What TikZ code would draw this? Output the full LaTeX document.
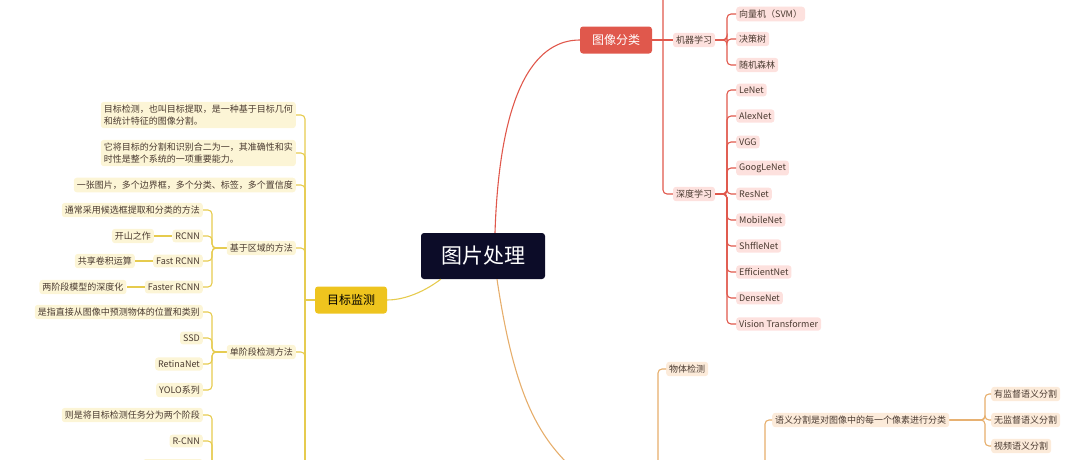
\documentclass[tikz,border=0pt]{standalone}
\usepackage{fontspec}
\setmainfont{Noto Sans CJK SC}
\usetikzlibrary{positioning}
\definecolor{redline}{HTML}{E0584C}
\definecolor{redfill}{HTML}{FDE1DE}
\definecolor{yelline}{HTML}{E6CB4E}
\definecolor{yelfill}{HTML}{FCF5D6}
\definecolor{yeltopic}{HTML}{EEC41E}
\definecolor{oraline}{HTML}{E6AE6C}
\definecolor{orafill}{HTML}{FCEBDA}
\definecolor{rootfill}{HTML}{0C0C28}
\definecolor{leaftext}{HTML}{4A3A30}
\tikzset{
  leaf/.style={fill=#1, rounded corners=3pt, inner sep=3pt, font=\fontsize{9}{12}\selectfont, text=leaftext},
  topic/.style={fill=#1, rounded corners=3pt, minimum width=72pt, minimum height=27pt, font=\fontsize{12}{14}\selectfont},
  link/.style={draw=#1, line width=1.1pt, rounded corners=4pt}
}
\begin{document}
\begin{tikzpicture}[x=1pt,y=-1pt]
                \useasboundingbox (0,0) rectangle (1080,459);
                % centre
                \node[fill=rootfill, rounded corners=3pt, minimum width=124pt, minimum height=46pt, text=white, font=\fontsize{21}{24}\selectfont] (root) at (483,256) {图片处理};
                \node[topic=redline, text=white] (cls) at (616,40) {图像分类};
                \node[topic=yeltopic, text=black] (det) at (351,300) {目标监测};
                \node[topic=oraline] (seg) at (616,475) {};
                \draw[link=redline] (root.north) ++(12,0) .. controls (500,80) and (540,40) .. (cls.west);
                \draw[link=yelline] (root.south west) ++(20,0) .. controls (420,295) and (400,300) .. (det.east);
                \draw[link=oraline] (root.south) ++(14,0) .. controls (515,400) and (540,440) .. (seg.west);
                % red branch
                \coordinate (rtop) at (663,0);
                \node[leaf=redfill] (ml) at (694,40) {机器学习};
                \node[leaf=redfill] (dl) at (694,194) {深度学习};
                \draw[link=redline] (cls.east) -- (ml.west);
                \draw[link=redline] (rtop) |- (dl.west);
                \foreach \name/\txt/\y in {svm/向量机（SVM）/14, tree/决策树/39, forest/随机森林/65}
                  \node[leaf=redfill, anchor=west] (\name) at (736,\y) {\txt};
                \foreach \name in {svm, tree, forest}
                  \draw[link=redline] (ml.east) -- (727,40) |- (\name.west);
                \foreach \name/\txt/\y in {le/LeNet/90, alex/AlexNet/116, vgg/VGG/142, goog/GoogLeNet/168, res/ResNet/194, mob/MobileNet/220, shf/ShffleNet/246, eff/EfficientNet/272, dense/DenseNet/298, vit/Vision Transformer/324}
                  \node[leaf=redfill, anchor=west] (\name) at (736,\y) {\txt};
                \foreach \name in {le, alex, vgg, goog, res, mob, shf, eff, dense, vit}
                  \draw[link=redline] (dl.east) -- (727,194) |- (\name.west);
                % yellow branch
                \coordinate (ybot) at (305,470);
                \node[leaf=yelfill, anchor=east, align=left] (d1) at (296,115) {目标检测，也叫目标提取，是一种基于目标几何\\和统计特征的图像分割。};
                \node[leaf=yelfill, anchor=east, align=left] (d2) at (296,153) {它将目标的分割和识别合二为一，其准确性和实\\时性是整个系统的一项重要能力。};
                \node[leaf=yelfill, anchor=east] (d3) at (296,185) {一张图片，多个边界框，多个分类、标签，多个置信度};
                \node[leaf=yelfill, anchor=east] (reg) at (296,248) {基于区域的方法};
                \node[leaf=yelfill, anchor=east] (one) at (296,352) {单阶段检测方法};
                \node[leaf=yelfill, anchor=east, minimum width=70pt, minimum height=18pt] (two) at (296,490) {};
                \draw[link=yelline] (det.west) -- (305,300);
                \foreach \name in {d1, d2, d3, reg, one}
                  \draw[link=yelline] (ybot) |- (\name.east);
                \foreach \name/\txt/\y in {r0/通常采用候选框提取和分类的方法/210, r1/RCNN/236, r2/Fast RCNN/261, r3/Faster RCNN/287}
                  \node[leaf=yelfill, anchor=east] (\name) at (203,\y) {\txt};
                \foreach \name in {r0, r1, r2, r3}
                  \draw[link=yelline] (reg.west) -- (212,248) |- (\name.east);
                \node[leaf=yelfill, left=18pt of r1] (r1a) {开山之作};
                \node[leaf=yelfill, left=18pt of r2] (r2a) {共享卷积运算};
                \node[leaf=yelfill, left=18pt of r3] (r3a) {两阶段模型的深度化};
                \draw[link=yelline] (r1) -- (r1a);
                \draw[link=yelline] (r2) -- (r2a);
                \draw[link=yelline] (r3) -- (r3a);
                \foreach \name/\txt/\y in {s0/是指直接从图像中预测物体的位置和类别/312, s1/SSD/338, s2/RetinaNet/364, s3/YOLO系列/390}
                  \node[leaf=yelfill, anchor=east] (\name) at (203,\y) {\txt};
                \foreach \name in {s0, s1, s2, s3}
                  \draw[link=yelline] (one.west) -- (212,352) |- (\name.east);
                \foreach \name/\txt/\y in {t0/则是将目标检测任务分为两个阶段/415, t1/R-CNN/441}
                  \node[leaf=yelfill, anchor=east] (\name) at (203,\y) {\txt};
                \node[leaf=yelfill, anchor=east, minimum width=60pt, minimum height=18pt] (t2) at (203,468) {};
                \foreach \name in {t0, t1, t2}
                  \draw[link=yelline] (two.west) -- (212,490) |- (\name.east);
                % orange branch
                \node[leaf=orafill, anchor=west] (obj) at (666,369) {物体检测};
                \node[leaf=orafill, anchor=west] (sem) at (772,420) {语义分割是对图像中的每一个像素进行分类};
                \draw[link=oraline] (seg.east) -- (658,475) |- (obj.west);
                \draw[link=oraline] (765,470) |- (sem.west);
                \foreach \name/\txt/\y in {sup/有监督语义分割/394, unsup/无监督语义分割/420, video/视频语义分割/446}
                  \node[leaf=orafill, anchor=west] (\name) at (991,\y) {\txt};
                \foreach \name in {sup, unsup, video}
                  \draw[link=oraline] (sem.east) -- (985,420) |- (\name.west);
            \end{tikzpicture}
\end{document}
